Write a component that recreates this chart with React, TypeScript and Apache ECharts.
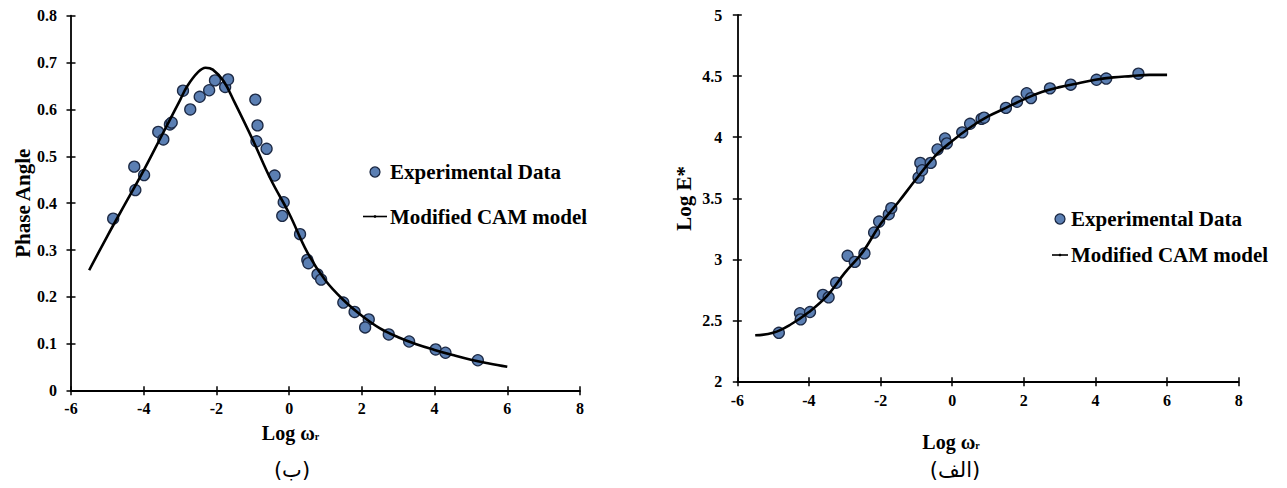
import React, { useEffect, useRef } from "react";
import * as echarts from "echarts";

// Phase angle chart (ب)
const phaseX = [-4.84, -4.26, -4.23, -3.99, -3.6, -3.46, -3.28, -3.23, -2.92, -2.72, -2.46, -2.2, -2.04, -1.76, -1.68, -0.93, -0.87, -0.9, -0.62, -0.4, -0.15, -0.19, 0.3, 0.5, 0.53, 0.78, 0.88, 1.49, 1.8, 2.19, 2.09, 2.74, 3.3, 4.03, 4.3, 5.19];
const phaseY = [0.367, 0.478, 0.428, 0.46, 0.552, 0.536, 0.568, 0.572, 0.64, 0.6, 0.627, 0.641, 0.662, 0.648, 0.664, 0.621, 0.566, 0.532, 0.516, 0.459, 0.402, 0.373, 0.334, 0.279, 0.272, 0.248, 0.237, 0.188, 0.168, 0.152, 0.135, 0.12, 0.105, 0.088, 0.081, 0.065];
const phaseModelX = [-5.5, -5.0, -4.5, -4.0, -3.5, -3.0, -2.8, -2.5, -2.3, -2.1, -1.8, -1.5, -1.0, -0.5, 0, 0.5, 1.0, 1.5, 2.0, 2.5, 3.0, 3.5, 4.0, 4.5, 5.0, 5.5, 6.0];
const phaseModelY = [0.257, 0.33, 0.4, 0.47, 0.545, 0.62, 0.65, 0.68, 0.689, 0.685, 0.66, 0.615, 0.535, 0.45, 0.378, 0.295, 0.235, 0.193, 0.16, 0.133, 0.114, 0.099, 0.087, 0.076, 0.066, 0.058, 0.051];

// Dynamic modulus chart (الف)
const modX = [-4.84, -4.25, -4.23, -3.97, -3.61, -3.45, -3.24, -2.92, -2.72, -2.45, -2.18, -2.04, -1.77, -1.7, -0.94, -0.89, -0.84, -0.6, -0.41, -0.2, -0.15, 0.28, 0.5, 0.82, 0.89, 1.5, 1.81, 2.08, 2.2, 2.73, 3.31, 4.03, 4.3, 5.2];
const modY = [2.4, 2.56, 2.51, 2.57, 2.71, 2.69, 2.81, 3.03, 2.98, 3.05, 3.22, 3.31, 3.37, 3.42, 3.67, 3.79, 3.73, 3.79, 3.9, 3.99, 3.95, 4.04, 4.11, 4.15, 4.16, 4.24, 4.29, 4.36, 4.32, 4.4, 4.43, 4.47, 4.48, 4.52];
const modModelX = [-5.5, -5.0, -4.5, -4.0, -3.5, -3.0, -2.5, -2.0, -1.5, -1.0, -0.5, 0, 0.5, 1.0, 1.5, 2.0, 2.5, 3.0, 3.5, 4.0, 4.5, 5.0, 5.5, 6.0];
const modModelY = [2.38, 2.4, 2.47, 2.57, 2.7, 2.89, 3.06, 3.29, 3.47, 3.66, 3.84, 3.97, 4.08, 4.17, 4.24, 4.31, 4.37, 4.41, 4.44, 4.47, 4.49, 4.5, 4.51, 4.51];

const seriesNames = ["Experimental Data", "Modified CAM model"];
const captions = ["(ب)", "(الف)"];

const FONT = "'Liberation Serif', 'Times New Roman', serif";
const MARKER_FILL = "#5b7fb3";
const MARKER_BORDER = "#1d2a45";

const zip = (xs: number[], ys: number[]) => xs.map((x, i) => [x, ys[i]]);

function xAxes(gridIndex: number, nameGap: number, padRight: number, labelMargin: number) {
  const common = {
    type: "value",
    gridIndex,
    min: -6,
    max: 8,
    interval: 2,
    position: "bottom",
    splitLine: { show: false },
  };
  return [
    {
      ...common,
      name: "Log ω{sub|r}",
      nameLocation: "middle",
      nameGap,
      nameTextStyle: {
        fontFamily: FONT,
        fontWeight: "bold",
        fontSize: 20,
        color: "#000",
        padding: [0, padRight, 0, 0],
        rich: {
          sub: { fontFamily: FONT, fontWeight: "bold", fontSize: 10, color: "#000", padding: [7, 0, 0, 0] },
        },
      },
      axisLine: { show: true, onZero: false, lineStyle: { color: "#000", width: 1.8 } },
      axisTick: { show: true, inside: false, length: 4.5, lineStyle: { color: "#000", width: 1.5 } },
      axisLabel: { fontFamily: FONT, fontWeight: "bold", fontSize: 16, color: "#000", margin: labelMargin },
    },
    {
      ...common,
      axisLine: { show: false, onZero: false },
      axisTick: { show: true, inside: true, length: 4.5, lineStyle: { color: "#000", width: 1.5 } },
      axisLabel: { show: false },
    },
  ];
}

function yAxes(gridIndex: number, min: number, max: number, interval: number, name: string, nameGap: number, labelMargin: number) {
  const common = {
    type: "value",
    gridIndex,
    min,
    max,
    interval,
    position: "left",
    splitLine: { show: false },
  };
  return [
    {
      ...common,
      name,
      nameLocation: "middle",
      nameGap,
      nameRotate: 90,
      nameTextStyle: { fontFamily: FONT, fontWeight: "bold", fontSize: 21, color: "#000" },
      axisLine: { show: true, onZero: false, lineStyle: { color: "#000", width: 1.8 } },
      axisTick: { show: true, inside: false, length: 4.5, lineStyle: { color: "#000", width: 1.5 } },
      axisLabel: { fontFamily: FONT, fontWeight: "bold", fontSize: 16, color: "#000", margin: labelMargin },
    },
    {
      ...common,
      axisLine: { show: false, onZero: false },
      axisTick: { show: true, inside: true, length: 4.5, lineStyle: { color: "#000", width: 1.5 } },
      axisLabel: { show: false },
    },
  ];
}

function legendGraphics(mx: number, my: number, lx: number, ly: number, tx: number) {
  const textStyle = { fontFamily: FONT, fontWeight: "bold", fontSize: 21, fill: "#000" };
  return [
    { type: "circle", shape: { cx: mx, cy: my, r: 5 }, style: { fill: MARKER_FILL, stroke: MARKER_BORDER, lineWidth: 1.3 } },
    { type: "text", x: tx, y: my, style: { ...textStyle, text: seriesNames[0], verticalAlign: "middle" } },
    { type: "line", shape: { x1: lx, y1: ly, x2: tx - 3, y2: ly }, style: { stroke: "#000", lineWidth: 1.6 } },
    { type: "circle", shape: { cx: (lx + tx - 3) / 2, cy: ly, r: 1.3 }, style: { fill: "#000" } },
    { type: "text", x: tx, y: ly, style: { ...textStyle, text: seriesNames[1], verticalAlign: "middle" } },
  ];
}

export default function App() {
  const ref = useRef<HTMLDivElement>(null);

  useEffect(() => {
    if (!ref.current) return;
    const chart = echarts.init(ref.current, undefined, { renderer: "svg" });

    const scatterStyle = {
      type: "scatter",
      symbol: "circle",
      symbolSize: 11,
      itemStyle: { color: MARKER_FILL, borderColor: MARKER_BORDER, borderWidth: 1.3, opacity: 1 },
      z: 3,
    };
    const lineStyle = {
      type: "line",
      smooth: 0.4,
      showSymbol: false,
      symbol: "none",
      lineStyle: { color: "#000", width: 2.6 },
      z: 4,
    };

    chart.setOption({
      animation: false,
      backgroundColor: "#fff",
      grid: [
        { left: 71, top: 15.7, width: 509, height: 375 },
        { left: 737.3, top: 15, width: 501.4, height: 366.7 },
      ],
      xAxis: [...xAxes(0, 32, 70, 10), ...xAxes(1, 50, 74, 11)],
      yAxis: [
        ...yAxes(0, 0, 0.8, 0.1, "Phase Angle", 38, 14),
        ...yAxes(1, 2, 5, 0.5, "Log E*", 43, 15),
      ],
      series: [
        { ...scatterStyle, name: seriesNames[0], xAxisIndex: 0, yAxisIndex: 0, data: zip(phaseX, phaseY) },
        { ...lineStyle, name: seriesNames[1], xAxisIndex: 0, yAxisIndex: 0, data: zip(phaseModelX, phaseModelY) },
        { ...scatterStyle, name: seriesNames[0], xAxisIndex: 2, yAxisIndex: 2, data: zip(modX, modY) },
        { ...lineStyle, name: seriesNames[1], xAxisIndex: 2, yAxisIndex: 2, data: zip(modModelX, modModelY) },
      ],
      graphic: [
        ...legendGraphics(375, 172, 363, 216.5, 390),
        ...legendGraphics(1060, 219, 1052, 255, 1071),
        {
          type: "text",
          x: 292,
          y: 470,
          style: { text: captions[0], fontFamily: "'DejaVu Sans', sans-serif", fontSize: 21, fill: "#000", align: "center", verticalAlign: "middle" },
        },
        {
          type: "text",
          x: 955,
          y: 470,
          style: { text: captions[1], fontFamily: "'DejaVu Sans', sans-serif", fontSize: 21, fill: "#000", align: "center", verticalAlign: "middle" },
        },
      ],
    });

    return () => chart.dispose();
  }, []);

  return (
    <div
      ref={ref}
      style={{ position: "fixed", left: 0, top: 0, width: 1287, height: 488, background: "#fff" }}
    />
  );
}
